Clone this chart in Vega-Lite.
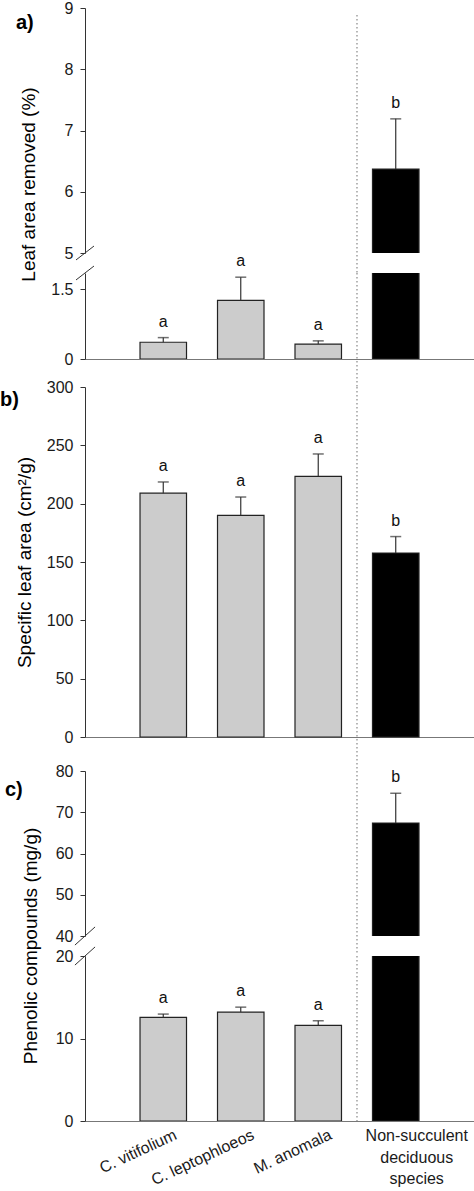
{
  "$schema": "https://vega.github.io/schema/vega-lite/v6.json",
  "padding": {"left": 0, "top": 0, "right": 0, "bottom": 0},
  "background": "white",
  "datasets": {
    "leaf": [
      {"species": "C. vitifolium", "mean": 0.36, "upper": 0.46, "letter": "a", "type": "succulent"},
      {"species": "C. leptophloeos", "mean": 1.26, "upper": 1.76, "letter": "a", "type": "succulent"},
      {"species": "M. anomala", "mean": 0.32, "upper": 0.39, "letter": "a", "type": "succulent"},
      {"species": "Non-succulent deciduous species", "mean": 6.37, "upper": 7.19, "letter": "b", "type": "non-succulent"}
    ],
    "sla": [
      {"species": "C. vitifolium", "mean": 209, "upper": 218.6, "letter": "a", "type": "succulent"},
      {"species": "C. leptophloeos", "mean": 190, "upper": 205.7, "letter": "a", "type": "succulent"},
      {"species": "M. anomala", "mean": 223.4, "upper": 242.6, "letter": "a", "type": "succulent"},
      {"species": "Non-succulent deciduous species", "mean": 157.7, "upper": 171.8, "letter": "b", "type": "non-succulent"}
    ],
    "phen": [
      {"species": "C. vitifolium", "mean": 12.56, "upper": 12.96, "letter": "a", "type": "succulent"},
      {"species": "C. leptophloeos", "mean": 13.2, "upper": 13.8, "letter": "a", "type": "succulent"},
      {"species": "M. anomala", "mean": 11.6, "upper": 12.15, "letter": "a", "type": "succulent"},
      {"species": "Non-succulent deciduous species", "mean": 67.4, "upper": 74.6, "letter": "b", "type": "non-succulent"}
    ]
  },
  "vconcat": [
    {
      "width": 389, "height": 245,
      "title": {"text": "a)", "anchor": "start", "frame": "group", "fontSize": 20, "fontWeight": "bold", "font": "Liberation Sans", "baseline": "middle", "offset": 0, "dx": -69, "dy": 43, "color": "#000"},
      "data": {"name": "leaf"},
      "encoding": {"x": {"field": "species", "type": "nominal", "sort": null, "scale": {"domain": ["C. vitifolium", "C. leptophloeos", "M. anomala", "Non-succulent deciduous species"], "paddingInner": 0, "paddingOuter": 0.51}, "axis": null}},
      "layer": [
        {"data": {"values": [{}]}, "mark": {"type": "rule", "strokeDash": [1.5, 2.5], "color": "#888", "strokeWidth": 1.2, "clip": false},
         "encoding": {"x": {"datum": "Non-succulent deciduous species", "bandPosition": 0}, "y": {"datum": 8.886, "type": "quantitative", "scale": {"domain": [5, 9], "zero": false, "nice": false}, "axis": {"title": "Leaf area removed (%)", "values": [5, 6, 7, 8, 9], "titleX": -57, "titleY": 176, "titleBaseline": "middle", "titleAlign": "center", "titleAngle": -90}}, "y2": {"datum": 4.68}}},
        {"transform": [{"filter": "datum.mean >= 5"}], "mark": {"type": "bar", "clip": true, "stroke": "#222", "strokeWidth": 1.2, "width": {"band": 0.6}},
         "encoding": {"y": {"field": "mean", "type": "quantitative", "scale": {"domain": [5, 9], "zero": false, "nice": false},
           "axis": {"title": "Leaf area removed (%)", "values": [5, 6, 7, 8, 9], "titleX": -57, "titleY": 176, "titleBaseline": "middle", "titleAlign": "center", "titleAngle": -90}},
           "color": {"field": "type", "type": "nominal", "scale": {"domain": ["succulent", "non-succulent"], "range": ["#cccccc", "#000000"]}, "legend": null}}},
        {"transform": [{"filter": "datum.upper >= 5"}], "mark": {"type": "rule", "color": "#333", "strokeWidth": 1.2},
         "encoding": {"y": {"field": "mean", "type": "quantitative", "axis": {"title": "Leaf area removed (%)", "values": [5, 6, 7, 8, 9], "titleX": -57, "titleY": 176, "titleBaseline": "middle", "titleAlign": "center", "titleAngle": -90}}, "y2": {"field": "upper"}}},
        {"transform": [{"filter": "datum.upper >= 5"}], "mark": {"type": "tick", "size": 11, "thickness": 1.5, "color": "#333"},
         "encoding": {"y": {"field": "upper", "type": "quantitative", "axis": {"title": "Leaf area removed (%)", "values": [5, 6, 7, 8, 9], "titleX": -57, "titleY": 176, "titleBaseline": "middle", "titleAlign": "center", "titleAngle": -90}}}},
        {"transform": [{"filter": "datum.upper >= 5"}], "mark": {"type": "text", "dy": -11, "baseline": "alphabetic", "fontSize": 16, "font": "Liberation Sans", "color": "#111"},
         "encoding": {"y": {"field": "upper", "type": "quantitative", "axis": {"title": "Leaf area removed (%)", "values": [5, 6, 7, 8, 9], "titleX": -57, "titleY": 176, "titleBaseline": "middle", "titleAlign": "center", "titleAngle": -90}}, "text": {"field": "letter"}}},
        {"data": {"values": [{}]}, "mark": {"type": "rule", "color": "#333", "strokeWidth": 1, "clip": false},
         "encoding": {"x": {"datum": "C. vitifolium", "bandPosition": -0.626}, "x2": {"datum": "C. vitifolium", "bandPosition": -0.394}, "y": {"datum": 4.886, "axis": {"title": "Leaf area removed (%)", "values": [5, 6, 7, 8, 9], "titleX": -57, "titleY": 176, "titleBaseline": "middle", "titleAlign": "center", "titleAngle": -90}}, "y2": {"datum": 5.114}}}
      ]
    },
    {"width": 389, "height": 0.001, "data": {"values": []}, "mark": {"type": "rule"}, "encoding": {}},
    {
      "width": 389, "height": 86,
      "data": {"name": "leaf"},
      "encoding": {"x": {"field": "species", "type": "nominal", "sort": null, "scale": {"domain": ["C. vitifolium", "C. leptophloeos", "M. anomala", "Non-succulent deciduous species"], "paddingInner": 0, "paddingOuter": 0.51}, "axis": {"title": null, "labels": false, "ticks": false, "domainColor": "#777"}}},
      "layer": [
        {"data": {"values": [{}]}, "mark": {"type": "rule", "strokeDash": [1.5, 2.5], "color": "#888", "strokeWidth": 1.2, "clip": false},
         "encoding": {"x": {"datum": "Non-succulent deciduous species", "bandPosition": 0}, "y": {"datum": 1.85, "type": "quantitative", "scale": {"domain": [0, 1.85], "nice": false}, "axis": {"title": null, "values": [0, 1.5], "format": ".1~f"}}, "y2": {"datum": -0.6}}},
        {"mark": {"type": "bar", "clip": true, "stroke": "#222", "strokeWidth": 1.2, "width": {"band": 0.6}},
         "encoding": {"y": {"field": "mean", "type": "quantitative", "scale": {"domain": [0, 1.85], "nice": false}, "axis": {"title": null, "values": [0, 1.5], "format": ".1~f"}},
           "color": {"field": "type", "type": "nominal", "scale": {"domain": ["succulent", "non-succulent"], "range": ["#cccccc", "#000000"]}, "legend": null}}},
        {"transform": [{"filter": "datum.upper < 1.85"}], "mark": {"type": "rule", "color": "#333", "strokeWidth": 1.2},
         "encoding": {"y": {"field": "mean", "type": "quantitative", "axis": {"title": null, "values": [0, 1.5], "format": ".1~f"}}, "y2": {"field": "upper"}}},
        {"transform": [{"filter": "datum.upper < 1.85"}], "mark": {"type": "tick", "size": 11, "thickness": 1.5, "color": "#333"},
         "encoding": {"y": {"field": "upper", "type": "quantitative", "axis": {"title": null, "values": [0, 1.5], "format": ".1~f"}}}},
        {"transform": [{"filter": "datum.upper < 1.85"}], "mark": {"type": "text", "dy": -11, "baseline": "alphabetic", "fontSize": 16, "font": "Liberation Sans", "color": "#111"},
         "encoding": {"y": {"field": "upper", "type": "quantitative", "axis": {"title": null, "values": [0, 1.5], "format": ".1~f"}}, "text": {"field": "letter"}}},
        {"data": {"values": [{}]}, "mark": {"type": "rule", "color": "#333", "strokeWidth": 1, "clip": false},
         "encoding": {"x": {"datum": "C. vitifolium", "bandPosition": -0.626}, "x2": {"datum": "C. vitifolium", "bandPosition": -0.394}, "y": {"datum": 1.70, "axis": {"title": null, "values": [0, 1.5], "format": ".1~f"}}, "y2": {"datum": 2.0}}}
      ]
    },
    {"width": 389, "height": 9, "data": {"values": []}, "mark": {"type": "rule"}, "encoding": {}},
    {
      "width": 389, "height": 350,
      "title": {"text": "b)", "anchor": "start", "frame": "group", "fontSize": 20, "fontWeight": "bold", "font": "Liberation Sans", "baseline": "middle", "offset": 0, "dx": -85, "dy": 41, "color": "#000"},
      "data": {"name": "sla"},
      "encoding": {"x": {"field": "species", "type": "nominal", "sort": null, "scale": {"domain": ["C. vitifolium", "C. leptophloeos", "M. anomala", "Non-succulent deciduous species"], "paddingInner": 0, "paddingOuter": 0.51}, "axis": {"title": null, "labels": false, "ticks": false, "domainColor": "#777"}}},
      "layer": [
        {"data": {"values": [{}]}, "mark": {"type": "rule", "strokeDash": [1.5, 2.5], "color": "#888", "strokeWidth": 1.2, "clip": false},
         "encoding": {"x": {"datum": "Non-succulent deciduous species", "bandPosition": 0}, "y": {"datum": 300, "type": "quantitative", "scale": {"domain": [0, 300], "nice": false}, "axis": {"title": "Specific leaf area (cm²/g)", "values": [0, 50, 100, 150, 200, 250, 300], "titleX": -61, "titleY": 175, "titleBaseline": "middle", "titleAlign": "center", "titleAngle": -90}}, "y2": {"datum": -29.1}}},
        {"mark": {"type": "bar", "stroke": "#222", "strokeWidth": 1.2, "width": {"band": 0.6}},
         "encoding": {"y": {"field": "mean", "type": "quantitative", "scale": {"domain": [0, 300], "nice": false},
           "axis": {"title": "Specific leaf area (cm²/g)", "values": [0, 50, 100, 150, 200, 250, 300], "titleX": -61, "titleY": 175, "titleBaseline": "middle", "titleAlign": "center", "titleAngle": -90}},
           "color": {"field": "type", "type": "nominal", "scale": {"domain": ["succulent", "non-succulent"], "range": ["#cccccc", "#000000"]}, "legend": null}}},
        {"mark": {"type": "rule", "color": "#333", "strokeWidth": 1.2},
         "encoding": {"y": {"field": "mean", "type": "quantitative", "axis": {"title": "Specific leaf area (cm²/g)", "values": [0, 50, 100, 150, 200, 250, 300], "titleX": -61, "titleY": 175, "titleBaseline": "middle", "titleAlign": "center", "titleAngle": -90}}, "y2": {"field": "upper"}}},
        {"mark": {"type": "tick", "size": 11, "thickness": 1.5, "color": "#333"},
         "encoding": {"y": {"field": "upper", "type": "quantitative", "axis": {"title": "Specific leaf area (cm²/g)", "values": [0, 50, 100, 150, 200, 250, 300], "titleX": -61, "titleY": 175, "titleBaseline": "middle", "titleAlign": "center", "titleAngle": -90}}}},
        {"mark": {"type": "text", "dy": -11, "baseline": "alphabetic", "fontSize": 16, "font": "Liberation Sans", "color": "#111"},
         "encoding": {"y": {"field": "upper", "type": "quantitative", "axis": {"title": "Specific leaf area (cm²/g)", "values": [0, 50, 100, 150, 200, 250, 300], "titleX": -61, "titleY": 175, "titleBaseline": "middle", "titleAlign": "center", "titleAngle": -90}}, "text": {"field": "letter"}}}
      ]
    },
    {"width": 389, "height": 15, "data": {"values": []}, "mark": {"type": "rule"}, "encoding": {}},
    {
      "width": 389, "height": 165,
      "title": {"text": "c)", "anchor": "start", "frame": "group", "fontSize": 20, "fontWeight": "bold", "font": "Liberation Sans", "baseline": "middle", "offset": 0, "dx": -80, "dy": 47, "color": "#000"},
      "data": {"name": "phen"},
      "encoding": {"x": {"field": "species", "type": "nominal", "sort": null, "scale": {"domain": ["C. vitifolium", "C. leptophloeos", "M. anomala", "Non-succulent deciduous species"], "paddingInner": 0, "paddingOuter": 0.51}, "axis": null}},
      "layer": [
        {"data": {"values": [{}]}, "mark": {"type": "rule", "strokeDash": [1.5, 2.5], "color": "#888", "strokeWidth": 1.2, "clip": false},
         "encoding": {"x": {"datum": "Non-succulent deciduous species", "bandPosition": 0}, "y": {"datum": 80, "type": "quantitative", "scale": {"domain": [40, 80], "zero": false, "nice": false}, "axis": {"title": "Phenolic compounds (mg/g)", "values": [40, 50, 60, 70, 80], "titleX": -55, "titleY": 174.5, "titleBaseline": "middle", "titleAlign": "center", "titleAngle": -90}}, "y2": {"datum": 35.4}}},
        {"transform": [{"filter": "datum.mean >= 40"}], "mark": {"type": "bar", "clip": true, "stroke": "#222", "strokeWidth": 1.2, "width": {"band": 0.6}},
         "encoding": {"y": {"field": "mean", "type": "quantitative", "scale": {"domain": [40, 80], "zero": false, "nice": false},
           "axis": {"title": "Phenolic compounds (mg/g)", "values": [40, 50, 60, 70, 80], "titleX": -55, "titleY": 174.5, "titleBaseline": "middle", "titleAlign": "center", "titleAngle": -90}},
           "color": {"field": "type", "type": "nominal", "scale": {"domain": ["succulent", "non-succulent"], "range": ["#cccccc", "#000000"]}, "legend": null}}},
        {"transform": [{"filter": "datum.upper >= 40"}], "mark": {"type": "rule", "color": "#333", "strokeWidth": 1.2},
         "encoding": {"y": {"field": "mean", "type": "quantitative", "axis": {"title": "Phenolic compounds (mg/g)", "values": [40, 50, 60, 70, 80], "titleX": -55, "titleY": 174.5, "titleBaseline": "middle", "titleAlign": "center", "titleAngle": -90}}, "y2": {"field": "upper"}}},
        {"transform": [{"filter": "datum.upper >= 40"}], "mark": {"type": "tick", "size": 11, "thickness": 1.5, "color": "#333"},
         "encoding": {"y": {"field": "upper", "type": "quantitative", "axis": {"title": "Phenolic compounds (mg/g)", "values": [40, 50, 60, 70, 80], "titleX": -55, "titleY": 174.5, "titleBaseline": "middle", "titleAlign": "center", "titleAngle": -90}}}},
        {"transform": [{"filter": "datum.upper >= 40"}], "mark": {"type": "text", "dy": -11, "baseline": "alphabetic", "fontSize": 16, "font": "Liberation Sans", "color": "#111"},
         "encoding": {"y": {"field": "upper", "type": "quantitative", "axis": {"title": "Phenolic compounds (mg/g)", "values": [40, 50, 60, 70, 80], "titleX": -55, "titleY": 174.5, "titleBaseline": "middle", "titleAlign": "center", "titleAngle": -90}}, "text": {"field": "letter"}}},
        {"data": {"values": [{}]}, "mark": {"type": "rule", "color": "#333", "strokeWidth": 1, "clip": false},
         "encoding": {"x": {"datum": "C. vitifolium", "bandPosition": -0.64}, "x2": {"datum": "C. vitifolium", "bandPosition": -0.38}, "y": {"datum": 37.8, "axis": {"title": "Phenolic compounds (mg/g)", "values": [40, 50, 60, 70, 80], "titleX": -55, "titleY": 174.5, "titleBaseline": "middle", "titleAlign": "center", "titleAngle": -90}}, "y2": {"datum": 42.2}}}
      ]
    },
    {"width": 389, "height": 0.001, "data": {"values": []}, "mark": {"type": "rule"}, "encoding": {}},
    {
      "width": 389, "height": 165,
      "data": {"name": "phen"},
      "encoding": {"x": {"field": "species", "type": "nominal", "sort": null, "scale": {"domain": ["C. vitifolium", "C. leptophloeos", "M. anomala", "Non-succulent deciduous species"], "paddingInner": 0, "paddingOuter": 0.51},
        "axis": {"title": null, "ticks": false, "labels": false, "domainColor": "#777"}}},
      "layer": [
        {"data": {"values": [{}]}, "mark": {"type": "rule", "strokeDash": [1.5, 2.5], "color": "#888", "strokeWidth": 1.2, "clip": false},
         "encoding": {"x": {"datum": "Non-succulent deciduous species", "bandPosition": 0}, "y": {"datum": 20, "type": "quantitative", "scale": {"domain": [0, 20], "nice": false}, "axis": {"title": null, "values": [0, 10, 20]}}, "y2": {"datum": 0}}},
        {"mark": {"type": "bar", "clip": true, "stroke": "#222", "strokeWidth": 1.2, "width": {"band": 0.6}},
         "encoding": {"y": {"field": "mean", "type": "quantitative", "scale": {"domain": [0, 20], "nice": false}, "axis": {"title": null, "values": [0, 10, 20]}},
           "color": {"field": "type", "type": "nominal", "scale": {"domain": ["succulent", "non-succulent"], "range": ["#cccccc", "#000000"]}, "legend": null}}},
        {"transform": [{"filter": "datum.upper < 20"}], "mark": {"type": "rule", "color": "#333", "strokeWidth": 1.2},
         "encoding": {"y": {"field": "mean", "type": "quantitative", "axis": {"title": null, "values": [0, 10, 20]}}, "y2": {"field": "upper"}}},
        {"transform": [{"filter": "datum.upper < 20"}], "mark": {"type": "tick", "size": 11, "thickness": 1.5, "color": "#333"},
         "encoding": {"y": {"field": "upper", "type": "quantitative", "axis": {"title": null, "values": [0, 10, 20]}}}},
        {"transform": [{"filter": "datum.upper < 20"}], "mark": {"type": "text", "dy": -11, "baseline": "alphabetic", "fontSize": 16, "font": "Liberation Sans", "color": "#111"},
         "encoding": {"y": {"field": "upper", "type": "quantitative", "axis": {"title": null, "values": [0, 10, 20]}}, "text": {"field": "letter"}}},
        {"data": {"values": [{}]}, "mark": {"type": "rule", "color": "#333", "strokeWidth": 1, "clip": false},
         "encoding": {"x": {"datum": "C. vitifolium", "bandPosition": -0.64}, "x2": {"datum": "C. vitifolium", "bandPosition": -0.38}, "y": {"datum": 18.9, "axis": {"title": null, "values": [0, 10, 20]}}, "y2": {"datum": 21.1}}},
        {"transform": [{"filter": "datum.type == 'succulent'"}], "mark": {"type": "text", "angle": 335, "align": "right", "baseline": "top", "fontSize": 16, "font": "Liberation Sans", "color": "#1a1a1a", "xOffset": 9, "clip": false},
         "encoding": {"y": {"datum": -0.7, "axis": {"title": null, "values": [0, 10, 20]}}, "text": {"field": "species"}}},
        {"transform": [{"filter": "datum.type == 'non-succulent'"}], "mark": {"type": "text", "align": "center", "baseline": "top", "fontSize": 16, "font": "Liberation Sans", "color": "#1a1a1a", "lineBreak": " ", "lineHeight": 21.5, "xOffset": 21, "clip": false},
         "encoding": {"y": {"datum": -0.85, "axis": {"title": null, "values": [0, 10, 20]}}, "text": {"field": "species"}}}
      ]
    }
  ],
  "spacing": 9.5,
  "bounds": "flush",
  "config": {
    "view": {"stroke": null},
    "font": "Liberation Sans",
    "axis": {"labelFont": "Liberation Sans", "labelFontSize": 16, "labelColor": "#1a1a1a", "titleFont": "Liberation Sans", "titleFontSize": 19, "titleFontWeight": "normal", "titleColor": "#000", "domainColor": "#333", "tickColor": "#333", "tickSize": 5, "labelPadding": 7, "grid": false}
  }
}
